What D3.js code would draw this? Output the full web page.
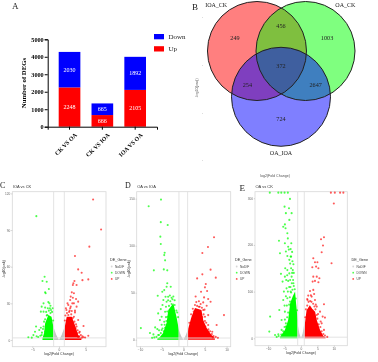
<!DOCTYPE html>
<html>
<head>
<meta charset="utf-8">
<script src="https://d3js.org/d3.v7.min.js"></script>
<style>
html, body { margin: 0; padding: 0; background: #fff; }
svg { display: block; filter: blur(0.6px); }
text { font-family: "Liberation Serif", serif; }
.tiny text, text.tiny { font-family: "Liberation Sans", sans-serif; }
</style>
</head>
<body>
<div id="chart"></div>
<script>
// panel A
var comparisons = ["CK VS OA", "CK VS IOA", "IOA VS OA"];
var upCounts = [2248, 666, 2105];
var downCounts = [2030, 665, 1892];
var countTicks = [0, 1000, 2000, 3000, 4000, 5000];

// panel B
var vennSets = ["IOA_CK", "OA_CK", "OA_IOA"];
var vennColors = ["#ff0000", "#00ff00", "#0000ff"];
var vennCounts = [249, 456, 1003, 372, 254, 2647, 724];

// volcano panels: [log2 fold change, -log10 padj]
var cUp = [[6.4,115],[7.9,90.5],[5.7,76.4],[3,68.7],[3.6,57.8],[4.25,55],[5.5,49.6],[4.4,49],[2.9,48.3],[2.7,46.4],[3.3,45],[2.6,45],[2.4,39],[2.8,38.2],[2.2,35.5],[2.6,34.6],[3.2,33.5],[3.6,31.4],[2.1,32.7],[2.8,30],[1.75,28.6],[2.2,27.3],[3.3,27.3],[1.4,24.5],[2.4,23.7],[3,22.6],[1.75,20.5],[2.8,19],[3.6,16.4],[3.2,12.8],[4.6,11.5],[3.9,6.8],[5.5,3.5],[4.6,2.2],[3.1,9.5],[3.4,5.5]];
var cUpEdge = [[1.2,20],[1.5,22],[1.9,23],[2.3,21],[2.6,18],[2,24],[2.9,15],[3.3,11],[3.5,8],[3.8,6],[4.1,4],[4.4,3],[3,8],[2.5,15],[1.3,26],[1.6,30],[2.5,30],[3,24],[3.8,3],[4.9,2],[4.3,1.8],[3.6,2.5],[2.1,26],[1.1,16]];
var cDown = [[-4.25,101.4],[-2.7,51.8],[-3.1,48.3],[-2.3,47.7],[-1.9,41.7],[-2.6,39],[-2.5,38.2],[-2.9,30],[-1.8,30],[-3.25,27.3],[-2.6,26.5],[-1.7,25.9],[-3.4,23.2],[-2.9,23.2],[-1.5,24.5],[-2.2,20.5],[-4.3,11],[-3.7,8.2],[-4.5,6.8],[-4.8,4],[-5.75,2.2],[-5.1,1.9],[-3.25,4],[-2.6,6.8]];
var cDownEdge = [[-1.3,23],[-1.6,22],[-1.9,24],[-2.3,20],[-2.6,17],[-2.9,11],[-3.2,6],[-3.5,3.5],[-3.9,2.5],[-2.1,26],[-1.2,26],[-2.8,15],[-3,9],[-3.4,10],[-4.2,3],[-1.1,16],[-2.4,23],[-1.6,28],[-2,31]];
var cUpMass = [[1,6],[1.1,11],[1.45,19],[2.4,19],[3,12],[3.6,4],[4.2,1.4]];
var cDownMass = [[-3.1,1.4],[-2.8,5.5],[-2.6,13.7],[-2,20.5],[-1.4,19],[-1.07,11],[-1,6]];

var dUp = [[7.1,109],[5.7,98.6],[4.4,92.2],[6.3,74.5],[4.4,69.5],[3.2,65.2],[7.5,66],[5.2,59.2],[5,55.7],[4.1,51],[5.5,51.8],[2.85,46],[4.8,45],[3.6,41],[5.75,43.3],[4.6,39.7],[6.3,40.4],[5.4,36.2],[3.6,35],[9.4,26.2],[4.6,31.6],[5.75,26.2],[5,24.5],[7.7,15.6],[6.7,8.5],[5.75,15.6]];
var dUpEdge = [[1.4,18],[1.8,27],[2.2,33],[2.7,37],[3.2,36],[3.8,35],[4.3,34],[4.7,27],[5,20],[5.3,18],[5.8,11],[6.2,9],[6.6,6],[7,4],[7.5,3],[8,2],[3,40],[2.4,30],[4,38],[4.4,24],[5.1,14],[6,5],[6.8,2.5],[2,22],[3.5,28],[4.9,32],[5.5,9]];
var dDown = [[-5.15,149],[-8,142],[-5.2,125],[-3.6,122],[-5.3,109.6],[-5.2,101.8],[-4.3,92.5],[-4.4,90],[-4.2,84.4],[-6.8,73.8],[-4.5,74.8],[-3.7,73.8],[-3.7,60],[-3.85,56.4],[-2.9,56.4],[-4.4,52.8],[-4.85,51],[-5.9,46.8],[-4.1,45.7],[-3.5,45.7],[-2.7,44.7],[-4.6,42.2],[-3.85,40.4],[-5.2,32.6],[-4.8,36.9],[-5.8,28],[-4.2,29.8],[-5,24.5],[-3.6,24.5],[-5.4,20.9],[-4.4,19.1],[-9.8,12.4],[-6.5,13.1],[-6,11.3],[-7.7,7.1],[-6.9,5.7],[-5,10.3],[-5.8,5],[-4.2,12.8]];
var dDownEdge = [[-1.2,24],[-1.6,31],[-2,37],[-2.5,43],[-3,41],[-3.3,36],[-3.7,30],[-4,24],[-4.3,16],[-4.8,12],[-5.2,7],[-5.6,5],[-6.2,3],[-6.7,2.5],[-7.2,2],[-4.5,9],[-3.1,47],[-2.3,46],[-3.9,20],[-3.5,42],[-5,16],[-5.6,10],[-2,42],[-1.4,29],[-4,35],[-2.7,38]];
var dUpMass = [[1,5],[1.15,12],[1.9,24.5],[2.7,33.7],[4.2,31.6],[4.6,21],[5.4,12.4],[6.5,5],[7.3,2]];
var dDownMass = [[-6,1.4],[-5.4,3],[-4.7,7],[-3.85,18],[-3.46,31.6],[-2.3,38.7],[-1.55,24],[-1,10],[-0.93,5]];

var eUp = [[10,288.6],[7,216.4],[6.1,212],[6.7,198.6],[6.3,184.3],[3.75,171.4],[9.3,160.7],[4.26,162.9],[5,162.9],[3.45,152],[4.6,153.6],[5.3,150],[3.75,132],[4.8,132],[5.6,128.6],[4.26,122.9],[5.3,120],[3.55,121.4],[2.75,101.4],[3.75,103.6],[2.2,91.4],[3.25,89.3],[4.26,82],[1.9,84.3],[7,72.9],[4.8,67.9],[5.8,57],[6.6,46.4],[7.3,44.3],[6.3,32],[9.1,312],[10.3,312],[11.9,312],[12.9,312]];
var eUpEdge = [[1.3,45],[1.5,62],[1.9,70],[2.3,78],[2.8,80],[3.2,78],[3.7,74],[4.1,68],[4.4,62],[4.8,50],[5,42],[5.4,30],[5.9,24],[6.3,15],[6.8,9],[7.3,6],[8,3],[3,92],[3.5,60],[4.5,72],[5.2,52],[2,82],[6,36],[4,95],[5.7,12],[7,18]];
var eDown = [[-3.35,298.6],[-5,282],[-3.65,278.6],[-4.6,268],[-2.85,268],[-3.55,253.6],[-4.9,244],[-5.4,239],[-4.7,235.7],[-4.15,225],[-4,214],[-6.7,209],[-4.9,203.6],[-2.95,203.6],[-3.9,196],[-3.15,191],[-6.4,182],[-4.6,186],[-4.15,176.4],[-3.15,175],[-3.55,168],[-2.3,158.6],[-4.15,146],[-2.5,146],[-3.55,139],[-6.1,138],[-4.9,132],[-2.85,132],[-5.6,121.4],[-3.9,122.9],[-2.3,117.9],[-4.4,107],[-3.15,100],[-5.4,82],[-4.15,85.7],[-3.35,78.6],[-6.6,60.7],[-4.9,57],[-9.4,46.4],[-5.9,39.3],[-4.6,25],[-9.65,14.3],[-7.9,7],[-6.9,8.6],[-5.9,17.9],[-9.5,312],[-6.9,312],[-6,312],[-5,312],[-4,312]];
var eDownEdge = [[-1.2,60],[-1.6,85],[-1.9,105],[-2.2,112],[-2.6,104],[-3,98],[-3.4,88],[-3.6,72],[-3.9,55],[-4.2,45],[-4.6,32],[-5,24],[-5.4,15],[-6,8],[-6.8,5],[-7.4,3],[-2.4,125],[-2.8,118],[-3.2,110],[-2.7,140],[-3,150],[-3.3,125],[-2.2,140],[-4.3,70],[-4.6,90],[-2.6,165],[-3.6,110],[-4,100],[-3,175],[-4.5,125],[-5,70],[-3.3,160],[-4.2,135],[-4.8,150],[-3.7,190],[-2.7,185],[-5.2,100],[-4.9,40]];
var eUpMass = [[1,8],[1.2,32],[1.7,60],[2.7,71],[3.5,62],[4.3,57],[4.8,39],[5.8,18],[6.8,5],[7.5,2]];
var eDownMass = [[-6.4,3],[-4.9,18],[-3.9,39],[-3.3,75],[-2.5,90],[-1.8,100],[-1.5,75],[-1,39],[-0.9,10]];

var noDiffC = [[-1,10],[-0.5,4],[0,0],[0.5,4],[1,10]];
var noDiffD = [[-1,10],[-0.5,4],[0,0],[0.5,4],[1,10]];
var noDiffE = [[-1,30],[-0.5,10],[0,0],[0.5,10],[1,30]];

var legendNames = ["NoDIF", "DOWN", "UP"];
var legendColors = ["#c4c4c4", "#00ff00", "#ff0000"];

var svg = d3.select("#chart").append("svg")
    .attr("width", 378)
    .attr("height", 362);

svg.append("rect").attr("width", 378).attr("height", 362).attr("fill", "#fff");

drawBars();
drawVenn();

drawVolcano({
    title: "IOA vs CK", left: 12.3, right: 106, top: 191.7, bottom: 346.7,
    xDomain: [-8.76, 8.82], yDomain: [-5.5, 121.4],
    xTicks: [-5, 0, 5], yTicks: [0, 30, 60, 90, 120],
    up: cUp.concat(cUpEdge), down: cDown.concat(cDownEdge), upMass: cUpMass, downMass: cDownMass, noDiff: noDiffC,
    legendX: 110, yLabelX: 5
});
drawVolcano({
    title: "OA vs IOA", left: 136.7, right: 230.7, top: 191.7, bottom: 346.7,
    xDomain: [-10.76, 10.95], yDomain: [-7.4, 157.4],
    xTicks: [-10, -5, 0, 5, 10], yTicks: [0, 50, 100, 150],
    up: dUp.concat(dUpEdge), down: dDown.concat(dDownEdge), upMass: dUpMass, downMass: dDownMass, noDiff: noDiffD,
    legendX: 235, yLabelX: 130
});
drawVolcano({
    title: "OA vs CK", left: 255, right: 347.3, top: 191.7, bottom: 345.7,
    xDomain: [-14, 14.1], yDomain: [-15.9, 314],
    xTicks: [-10, -5, 0, 5, 10], yTicks: [0, 100, 200, 300],
    up: eUp.concat(eUpEdge), down: eDown.concat(eDownEdge), upMass: eUpMass, downMass: eDownMass, noDiff: noDiffE,
    legendX: 351.5, yLabelX: null
});

panelLabel("A", 12, 9, 9);
panelLabel("B", 192, 10, 9);
panelLabel("C", 0, 188, 8);
panelLabel("D", 125, 188, 8);
panelLabel("E", 239.5, 191, 9);

function panelLabel(s, x, y, size) {
    svg.append("text").attr("x", x).attr("y", y)
        .style("font-size", size + "px").attr("fill", "#222").text(s);
}

function drawBars() {
    var g = svg.append("g");
    var x = d3.scaleBand().domain(comparisons).range([47.7, 157]).paddingInner(0.34).paddingOuter(0.335);
    var y = d3.scaleLinear().domain([0, 5000]).range([126.7, 39.3]);

    comparisons.forEach(function(c, i) {
        g.append("rect").attr("x", x(c)).attr("width", x.bandwidth())
            .attr("y", y(upCounts[i])).attr("height", y(0) - y(upCounts[i]))
            .attr("fill", "#ff0000");
        g.append("rect").attr("x", x(c)).attr("width", x.bandwidth())
            .attr("y", y(upCounts[i] + downCounts[i])).attr("height", y(0) - y(downCounts[i]))
            .attr("fill", "#0000ff");
        g.append("text").attr("x", x(c) + x.bandwidth() / 2).attr("y", y(upCounts[i] / 2) + 2)
            .attr("text-anchor", "middle").attr("fill", "#fff").style("font-size", "6px")
            .text(upCounts[i]);
        g.append("text").attr("x", x(c) + x.bandwidth() / 2).attr("y", y(upCounts[i] + downCounts[i] / 2) + 2)
            .attr("text-anchor", "middle").attr("fill", "#fff").style("font-size", "6px")
            .text(downCounts[i]);
    });

    var yAxis = g.append("g").attr("transform", "translate(47.7,0)")
        .call(d3.axisLeft(y).tickValues(countTicks).tickFormat(d3.format("d")).tickSize(3).tickPadding(1));
    yAxis.selectAll("text").style("font-size", "6.2px").style("font-weight", "bold")
        .style("font-family", "'Liberation Serif', serif");

    var xAxis = g.append("g").attr("transform", "translate(0,126.7)")
        .call(d3.axisBottom(x).tickSize(3).tickPadding(2));
    xAxis.selectAll("text")
        .attr("transform", "translate(3,4) rotate(-45)")
        .attr("text-anchor", "end")
        .attr("dy", "0.3em")
        .style("font-size", "6px").style("font-weight", "bold")
        .style("font-family", "'Liberation Serif', serif");

    g.selectAll(".domain, .tick line").attr("stroke", "#000").attr("stroke-width", 1);

    g.append("text").attr("transform", "translate(25.5,83) rotate(-90)")
        .attr("text-anchor", "middle").style("font-size", "6.8px").style("font-weight", "bold")
        .text("Number of DEGs");

    // legend
    ["Down", "Up"].forEach(function(name, i) {
        g.append("rect").attr("x", 154).attr("y", 34 + i * 12.2).attr("width", 10).attr("height", 5.3)
            .attr("fill", i == 0 ? "#0000ff" : "#ff0000");
        g.append("text").attr("x", 168.5).attr("y", 39 + i * 12.2)
            .style("font-size", "7px").attr("fill", "#222").text(name);
    });
}

function drawVenn() {
    var g = svg.append("g");
    // the three sets sit on a triangle, unit = one radius
    var vx = d3.scaleLinear().domain([0, 1]).range([281, 330.5]);
    var vy = d3.scaleLinear().domain([0, 1]).range([51, 100.5]);
    var r = vx(1) - vx(0);
    var centers = [[-0.485, 0], [0.495, 0], [0, 0.925]];

    // faint axis labels of the volcano plot underneath
    [17, 65, 113, 160].forEach(function(t) {
        g.append("rect").attr("x", 202).attr("y", t).attr("width", 1).attr("height", 1).attr("fill", "#ddd");
    });
    g.append("text").attr("class", "tiny").attr("transform", "translate(198,88) rotate(-90)")
        .attr("text-anchor", "middle").style("font-size", "3.6px").attr("fill", "#555").text("-log10(padj)");
    g.append("text").attr("class", "tiny").attr("x", 275).attr("y", 176.5)
        .attr("text-anchor", "middle").style("font-size", "3.6px").attr("fill", "#555").text("log2(Fold Change)");

    vennSets.forEach(function(s, i) {
        g.append("circle").attr("cx", vx(centers[i][0])).attr("cy", vy(centers[i][1])).attr("r", r)
            .attr("fill", vennColors[i]).attr("fill-opacity", 0.5);
    });
    vennSets.forEach(function(s, i) {
        g.append("circle").attr("cx", vx(centers[i][0])).attr("cy", vy(centers[i][1])).attr("r", r)
            .attr("fill", "none").attr("stroke", "#222").attr("stroke-width", 1);
    });

    var setLabelAt = [[-1.31, -0.92], [1.3, -0.92], [0, 2.06]];
    vennSets.forEach(function(s, i) {
        g.append("text").attr("x", vx(setLabelAt[i][0])).attr("y", vy(setLabelAt[i][1]) + 2)
            .attr("text-anchor", "middle").style("font-size", "6px").attr("fill", "#222").text(s);
    });

    var countAt = [[-0.93, -0.26], [0, -0.5], [0.93, -0.26], [0, 0.3], [-0.68, 0.69], [0.7, 0.69], [0, 1.37]];
    vennCounts.forEach(function(n, i) {
        g.append("text").attr("x", vx(countAt[i][0])).attr("y", vy(countAt[i][1]) + 2.2)
            .attr("text-anchor", "middle").style("font-size", "6.2px").attr("fill", "#222").text(n);
    });
}

function drawVolcano(p) {
    var g = svg.append("g").attr("class", "tiny");
    var x = d3.scaleLinear().domain(p.xDomain).range([p.left, p.right]);
    var y = d3.scaleLinear().domain(p.yDomain).range([p.bottom, p.top]);
    var cutoff = 1.3;
    var guide = "#e0e0e0";

    g.append("rect").attr("x", p.left).attr("y", p.top)
        .attr("width", p.right - p.left).attr("height", p.bottom - p.top)
        .attr("fill", "#fff").attr("stroke", "#d8d8d8").attr("stroke-width", 0.8);

    var area = d3.area()
        .x(function(d) { return x(d[0]); })
        .y0(y(0))
        .y1(function(d) { return y(d[1]); });

    g.append("path").datum(p.noDiff).attr("d", area).attr("fill", "#c4c4c4");
    g.append("path").datum(p.downMass).attr("d", area).attr("fill", "#00ff00");
    g.append("path").datum(p.upMass).attr("d", area).attr("fill", "#ff0000");

    [-1, 1].forEach(function(v) {
        g.append("line").attr("x1", x(v)).attr("x2", x(v)).attr("y1", p.top).attr("y2", p.bottom)
            .attr("stroke", guide).attr("stroke-width", 0.9);
    });
    g.append("line").attr("x1", p.left).attr("x2", p.right).attr("y1", y(cutoff) - 0.5).attr("y2", y(cutoff) - 0.5)
        .attr("stroke", guide).attr("stroke-width", 0.9);

    g.selectAll("circle.down").data(p.down).enter().append("circle")
        .attr("class", "down").attr("cx", function(d) { return x(d[0]); }).attr("cy", function(d) { return y(d[1]); })
        .attr("r", 1.05).attr("fill", "#00ff00").attr("fill-opacity", 0.7);
    g.selectAll("circle.up").data(p.up).enter().append("circle")
        .attr("class", "up").attr("cx", function(d) { return x(d[0]); }).attr("cy", function(d) { return y(d[1]); })
        .attr("r", 1.05).attr("fill", "#ff0000").attr("fill-opacity", 0.65);

    var xAxis = g.append("g").attr("transform", "translate(0," + p.bottom + ")")
        .call(d3.axisBottom(x).tickValues(p.xTicks).tickSize(1.2).tickPadding(0.8));
    var yAxis = g.append("g").attr("transform", "translate(" + p.left + ",0)")
        .call(d3.axisLeft(y).tickValues(p.yTicks).tickSize(1.2).tickPadding(0.8));
    xAxis.select(".domain").remove();
    yAxis.select(".domain").remove();
    g.selectAll(".tick line").attr("stroke", "#aaa").attr("stroke-width", 0.5);
    g.selectAll(".tick text").style("font-size", "3.2px").style("font-family", "'Liberation Sans', sans-serif").attr("fill", "#666");

    g.append("text").attr("x", p.left + 0.5).attr("y", p.top - 3.5)
        .style("font-size", "4px").attr("fill", "#333").text(p.title);
    g.append("text").attr("x", x(0)).attr("y", p.bottom + 8.5).attr("text-anchor", "middle")
        .style("font-size", "3.6px").attr("fill", "#333").text("log2(Fold Change)");
    if (p.yLabelX !== null) {
        g.append("text").attr("transform", "translate(" + p.yLabelX + ",269) rotate(-90)")
            .attr("text-anchor", "middle").style("font-size", "3.4px").attr("fill", "#444").text("-log10(padj)");
    }

    g.append("text").attr("x", p.legendX).attr("y", 261)
        .style("font-size", "3.8px").attr("fill", "#333").text("DE_Gene");
    legendNames.forEach(function(name, i) {
        g.append("circle").attr("cx", p.legendX + 1.7).attr("cy", 266.5 + i * 6.2).attr("r", 0.9)
            .attr("fill", legendColors[i]).attr("fill-opacity", 0.7);
        g.append("text").attr("x", p.legendX + 5).attr("y", 267.8 + i * 6.2)
            .style("font-size", "3.2px").attr("fill", "#444").text(name);
    });
}
</script>
</body>
</html>
